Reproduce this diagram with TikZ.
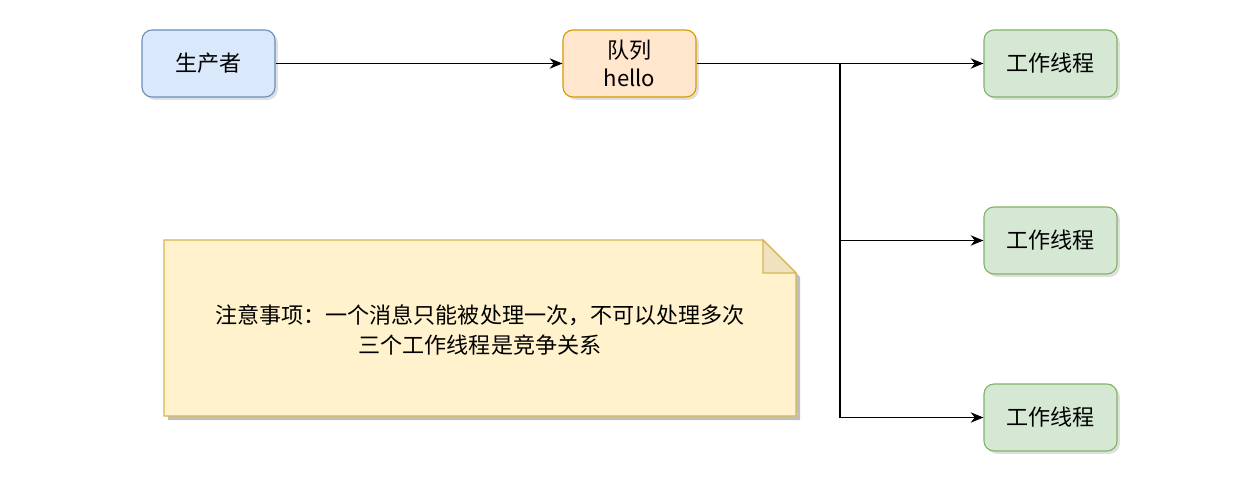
\documentclass[tikz,border=0pt]{standalone}
\usepackage{fontspec}
\setmainfont{Noto Sans CJK SC}
\usepackage{tikz}
\usetikzlibrary{positioning,shadows,arrows.meta}

\definecolor{prodfill}{HTML}{DAE8FC}
\definecolor{proddraw}{HTML}{6C8EBF}
\definecolor{queuefill}{HTML}{FFE6CC}
\definecolor{queuedraw}{HTML}{D79B00}
\definecolor{workfill}{HTML}{D5E8D4}
\definecolor{workdraw}{HTML}{82B366}
\definecolor{notefill}{HTML}{FFF2CC}
\definecolor{notedraw}{HTML}{D6B656}
\definecolor{foldfill}{HTML}{F0E2BE}

\begin{document}
\begin{tikzpicture}[x=0.025cm, y=-0.025cm,
        boxnode/.style={rectangle, rounded corners=0.25cm, thick, minimum width=3.325cm, minimum height=1.675cm,
                        align=center, font=\fontsize{15.7}{20}\selectfont,
                        drop shadow={shadow xshift=0.07cm, shadow yshift=-0.07cm, fill=black!25}},
        prodnode/.style={boxnode, draw=proddraw, fill=prodfill},
        queuenode/.style={boxnode, draw=queuedraw, fill=queuefill},
        worknode/.style={boxnode, draw=workdraw, fill=workfill},
        link/.style={-{Stealth[length=0.32cm, width=0.26cm]}, thick}]

        \useasboundingbox (0,0) rectangle (1237,492);

        \node[prodnode] (producer) at (208.5,63.5) {生产者};
        \node[queuenode] (queue) at (629.5,63.5) {队列\\hello};
        \node[worknode] (worker1) at (1050.5,63.5) {工作线程};
        \node[worknode] (worker2) at (1050.5,240.5) {工作线程};
        \node[worknode] (worker3) at (1050.5,417.5) {工作线程};
        \coordinate (split) at (840,63.5);

        \draw[link] (producer) -- (queue);
        \draw[thick] (queue) -- (split);
        \draw[link] (split) -- (worker1);
        \draw[link] (split) |- (worker2);
        \draw[link] (split) |- (worker3);

        % note with folded corner
        \fill[black!25] (168,244) -- (767,244) -- (800,277) -- (800,420) -- (168,420) -- cycle;
        \draw[notedraw, fill=notefill, thick] (164,240) -- (763,240) -- (796,273) -- (796,416) -- (164,416) -- cycle;
        \draw[notedraw, fill=foldfill, thick] (763,240) -- (763,273) -- (796,273) -- cycle;
        \node[align=center, font=\fontsize{15.7}{22}\selectfont] (note) at (480,330)
            {注意事项：一个消息只能被处理一次，不可以处理多次\\三个工作线程是竞争关系};

\end{tikzpicture}
\end{document}
